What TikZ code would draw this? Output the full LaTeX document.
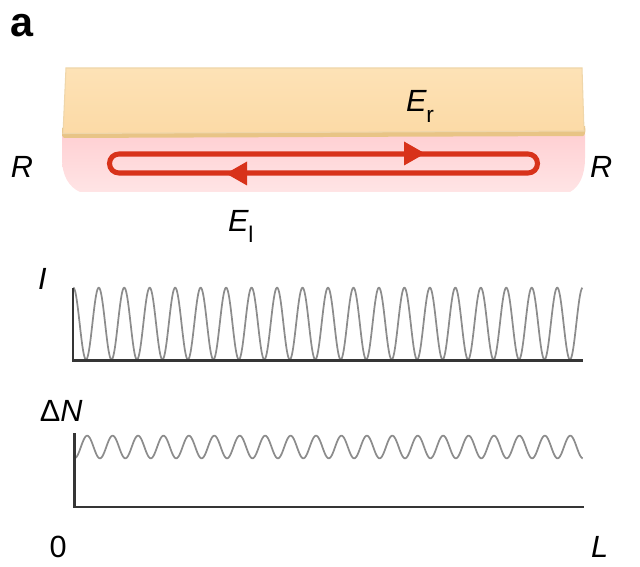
\documentclass[tikz,border=0pt]{standalone}
\usepackage{fontspec}
\setmainfont{Liberation Sans}
\definecolor{barfill}{HTML}{FCDAA6}
\definecolor{bartop}{HTML}{FDE2B6}
\definecolor{baredge}{HTML}{E8C486}
\definecolor{pinktop}{HTML}{FFD0D3}
\definecolor{pinkbot}{HTML}{FFE4E5}
\definecolor{loopred}{HTML}{D8321A}
\definecolor{curvegray}{HTML}{8C8C8C}
\definecolor{axisgray}{HTML}{353535}
\tikzset{
  lbl/.style={anchor=base west, inner sep=0pt, outer sep=0pt, font=\fontsize{23}{23}\selectfont\itshape},
  axisline/.style={axisgray, line width=1.6pt},
  curve/.style={curvegray, line width=1.3pt},
  loopline/.style={loopred, line width=3.8pt},
}
\newcommand{\subtxt}[1]{\raisebox{-7.8pt}{\fontsize{17}{17}\selectfont\upshape #1}}
\begin{document}
\begin{tikzpicture}[x=0.75pt, y=-0.75pt]
\useasboundingbox (0,0) rectangle (640,567);
% pink gain region
\shade[top color=pinktop, bottom color=pinkbot]
  (62,134) -- (585,134) -- (585,158) .. controls (585,176) and (579,187) .. (570,192)
  -- (80,192) .. controls (69,187) and (62,176) .. (62,158) -- cycle;
% orange bar
\fill[baredge] (62,128) -- (585,126) .. controls (586,132) and (585,135) .. (583,136) -- (64,138) .. controls (62,137) and (62,135) .. (62,133) -- cycle;
\shade[top color=bartop, bottom color=barfill, draw=baredge!70, line width=0.8pt]
  (66,68) -- (582,68) -- (584,131) -- (63,133.5) -- cycle;
% loop
\draw[loopline, rounded corners=7.1pt] (109.5,154) rectangle (537.5,173);
\fill[loopred] (404,141.5) -- (425,153.5) -- (404,165.5) -- cycle;
\fill[loopred] (247,161.5) -- (226,173.5) -- (247,185.5) -- cycle;
% labels
\node[anchor=base west, inner sep=0pt, font=\fontsize{31}{31}\selectfont\bfseries] (panel) at (10.5,37) {a};
\node[lbl] (rleft) at (11,177) {R};
\node[lbl] (rright) at (590,177) {R};
\node[lbl] (er) at (406,112) {E\subtxt{r}};
\node[lbl] (el) at (228,232) {E\subtxt{l}};
% intensity plot
\coordinate (io) at (73.3,360.5);
\coordinate (itop) at (73.3,287.5);
\coordinate (iend) at (583,360.5);
\draw[curve] plot[domain=0:1, samples=1201, variable=\t]
  ({73.3+509.4*\t},{359.5-71.8*(0.5+0.5*cos(7200*\t))});
\draw[axisline] (itop) -- (io) -- (iend);
\node[lbl] (ilbl) at (38,289) {I};
% population plot
\coordinate (no) at (74.5,507);
\coordinate (ntop) at (74.5,433);
\coordinate (nend) at (584,507);
\draw[curve] plot[domain=0:1, samples=1201, variable=\t]
  ({74.5+508.5*\t},{447+11.3*cos(7200*\t)});
\draw[axisline] (ntop) -- (no) -- (nend);
\node[lbl] (nlbl) at (40,421) {{\upshape Δ}N};
\node[lbl, font=\fontsize{23}{23}\selectfont\upshape] (zero) at (49.5,557) {0};
\node[lbl] (ell) at (591,557) {L};
\end{tikzpicture}
\end{document}
